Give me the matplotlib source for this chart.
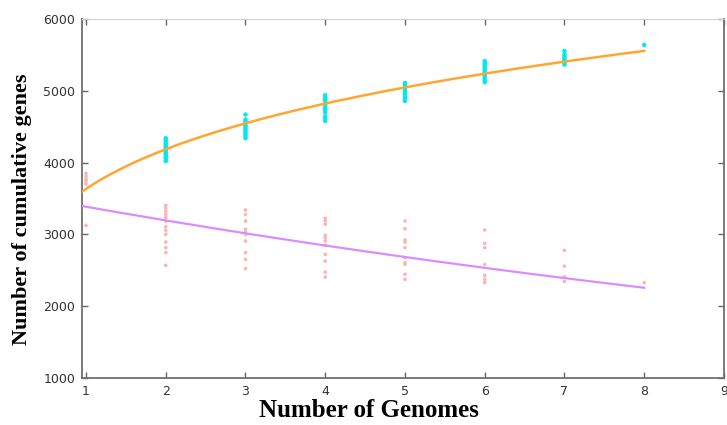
import numpy as np
import matplotlib
matplotlib.use('Agg')
import matplotlib.pyplot as plt

# pan-genome (cumulative) gene counts per number of genomes
pan_x = [2] * 14 + [3] * 12 + [4] * 13 + [5] * 11 + [6] * 12 + [7] * 8 + [8]
pan_y = [4020, 4045, 4070, 4095, 4120, 4145, 4165, 4190, 4215, 4240, 4265, 4290, 4315, 4340,
         4340, 4365, 4390, 4420, 4445, 4470, 4495, 4520, 4550, 4575, 4600, 4670,
         4580, 4610, 4645, 4700, 4725, 4750, 4780, 4810, 4835, 4865, 4890, 4915, 4940,
         4860, 4885, 4910, 4935, 4960, 4990, 5015, 5040, 5065, 5090, 5110,
         5120, 5145, 5170, 5200, 5225, 5250, 5280, 5305, 5335, 5360, 5390, 5415,
         5365, 5390, 5415, 5440, 5465, 5490, 5511, 5557,
         5640]

# core-genome gene counts
core_x = [1] * 6 + [2] * 13 + [3] * 10 + [4] * 11 + [5] * 10 + [6] * 7 + [7] * 4 + [8]
core_y = [3850, 3810, 3770, 3740, 3700, 3125,
          3405, 3367, 3325, 3279, 3233, 3186, 3107, 3056, 3000, 2893, 2814, 2745, 2568,
          3339, 3279, 3186, 3070, 3032, 3000, 2907, 2745, 2651, 2522,
          3223, 3186, 3140, 2986, 2954, 2907, 2847, 2721, 2628, 2474, 2404,
          3186, 3079, 2921, 2893, 2814, 2675, 2605, 2581, 2442, 2372,
          3060, 2874, 2814, 2581, 2428, 2372, 2330,
          2777, 2558, 2410, 2344,
          2326]

# fitted curves
pan_fit = (3633, 0.2044)     # y = A * x**B
core_fit = (3587, -0.058)    # y = A * exp(B * x)

x_min, x_max = 0.95, 9

fig = plt.figure(figsize=(7.27, 4.25), dpi=100)
ax = fig.add_axes([0.1128, 0.111, 0.883, 0.844])

ax.scatter(pan_x, pan_y, s=10, color='#00E8F0', edgecolors='none', zorder=2)
ax.scatter(core_x, core_y, s=7, color='#FFB4B4', edgecolors='none', zorder=2)

xs = np.linspace(x_min, 8, 200)
ax.plot(xs, pan_fit[0] * xs ** pan_fit[1], color='#FFA630', lw=1.8, zorder=3)
ax.plot(xs, core_fit[0] * np.exp(core_fit[1] * xs), color='#D98CFF', lw=1.6, zorder=3)

ax.set_xlim(x_min, x_max)
ax.set_ylim(1000, 6000)
ax.set_xticks(range(1, 10))
ax.set_yticks(range(1000, 7000, 1000))
ax.tick_params(direction='in', length=4, width=1, color='#666666', labelcolor='#333333',
               labelsize=9, top=True, right=True, pad=5)

for side in ['left', 'bottom', 'right']:
    ax.spines[side].set_color('#707070')
    ax.spines[side].set_linewidth(1.3)
ax.spines['top'].set_color('#d0d0d0')

ax.set_xlabel('Number of Genomes', family='Liberation Serif', fontweight='bold',
              fontsize=18)
ax.xaxis.set_label_coords(0.447, -0.058)
ax.set_ylabel('Number of cumulative genes', family='Liberation Serif', fontweight='bold',
              fontsize=16)
ax.yaxis.set_label_coords(-0.078, 0.47)

fig.savefig('out.png', dpi=100)
